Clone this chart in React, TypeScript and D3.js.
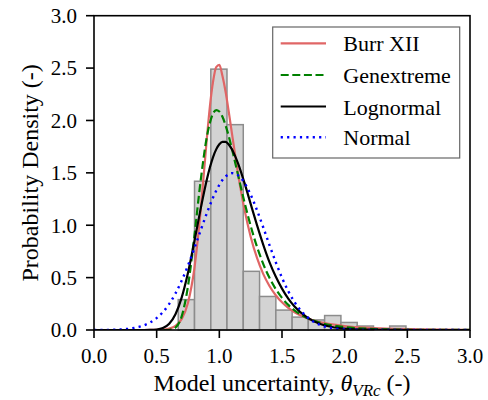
import React from 'react';
import * as d3 from 'd3';

// ---- data ----
const gridX = [0, 0.1, 0.2, 0.3, 0.4, 0.45, 0.5, 0.55, 0.6, 0.65, 0.7, 0.75, 0.8, 0.85, 0.9, 0.925, 0.95, 0.975, 1.0, 1.025, 1.05, 1.075, 1.1, 1.15, 1.2, 1.25, 1.3, 1.35, 1.4, 1.45, 1.5, 1.55, 1.6, 1.7, 1.8, 1.9, 2.0, 2.2, 2.4, 2.6, 3.0];

const burrPdf = [0, 0, 0, 0, 0.0001, 0.0003, 0.0012, 0.0042, 0.0135, 0.0394, 0.106, 0.261, 0.58, 1.127, 1.823, 2.138, 2.372, 2.51, 2.53, 2.424, 2.274, 2.085, 1.882, 1.487, 1.154, 0.891, 0.69, 0.536, 0.42, 0.332, 0.264, 0.211, 0.17, 0.113, 0.076, 0.053, 0.037, 0.0195, 0.0108, 0.0063, 0.0024];

const genextremePdf = [0, 0, 0, 0, 0, 0, 0, 0.0001, 0.0019, 0.0237, 0.132, 0.419, 0.888, 1.416, 1.84, 1.979, 2.066, 2.099, 2.086, 2.035, 1.953, 1.85, 1.732, 1.476, 1.223, 0.994, 0.796, 0.632, 0.498, 0.391, 0.306, 0.24, 0.188, 0.115, 0.0711, 0.0442, 0.0277, 0.0112, 0.0047, 0.002, 0.0004];

const lognormalPdf = [0, 0, 0, 0, 0, 0.0007, 0.0043, 0.0187, 0.06, 0.151, 0.312, 0.547, 0.84, 1.151, 1.434, 1.553, 1.651, 1.724, 1.773, 1.796, 1.795, 1.7705, 1.726, 1.588, 1.406, 1.204, 1.003, 0.815, 0.648, 0.51, 0.395, 0.3, 0.225, 0.12, 0.06, 0.029, 0.014, 0.003, 0.0005, 0.0001, 0];

const normalPdf = [0.0003, 0.0012, 0.0047, 0.0156, 0.0453, 0.073, 0.114, 0.171, 0.249, 0.349, 0.472, 0.616, 0.778, 0.947, 1.114, 1.192, 1.264, 1.329, 1.385, 1.431, 1.465, 1.488, 1.497, 1.476, 1.405, 1.291, 1.145, 0.981, 0.811, 0.648, 0.499, 0.371, 0.267, 0.124, 0.05, 0.0175, 0.0053, 0.0003, 0, 0, 0];

const binEdges = [0.672, 0.802, 0.932, 1.061, 1.191, 1.321, 1.451, 1.581, 1.71, 1.84, 1.97, 2.1, 2.23, 2.359, 2.489];
const binDensity = [0.29, 1.42, 2.49, 1.96, 0.56, 0.32, 0.19, 0.123, 0.096, 0.138, 0.072, 0.038, 0, 0.038];

const xTicks = [0, 0.5, 1.0, 1.5, 2.0, 2.5, 3.0];
const yTicks = [0, 0.5, 1.0, 1.5, 2.0, 2.5, 3.0];

const seriesNames = ['Burr XII', 'Genextreme', 'Lognormal', 'Normal'];
const seriesValues = [burrPdf, genextremePdf, lognormalPdf, normalPdf];

// ---- styles ----
const seriesStyles = [
  { color: '#e06666', dash: 'none', width: 2.2 },
  { color: '#008000', dash: '8 3.6', width: 2.2 },
  { color: '#000000', dash: 'none', width: 2.2 },
  { color: '#0000ff', dash: '2.2 4.2', width: 2.4 },
];

const FONT = 'Liberation Serif, DejaVu Serif, serif';
const txt = { fontFamily: FONT };

export default function App() {
  const W = 488;
  const H = 400;
  const left = 94, right = 470, top = 15.7, bottom = 330;
  const x = d3.scaleLinear().domain([0, 3]).range([left, right]);
  const y = d3.scaleLinear().domain([0, 3]).range([bottom, top]);
  const fmt = d3.format('.1f');

  const lineGen = d3
    .line<number>()
    .x((_, i) => x(gridX[i]))
    .y((d) => y(d))
    .curve(d3.curveMonotoneX);

  const legendX = 272.7, legendY = 27, legendW = 187, legendH = 131;
  const rowY = [43.3, 75, 106.5, 137.3];

  return (
    <svg
      width={W}
      height={H}
      viewBox={`0 0 ${W} ${H}`}
      style={{ position: 'absolute', left: 0, top: 0, background: '#fff' }}
    >
      <defs>
        <clipPath id="plotClip">
          <rect x={left} y={top} width={right - left} height={bottom - top} />
        </clipPath>
      </defs>

      {/* histogram */}
      <g>
        {binDensity.map((d, i) =>
          d > 0 ? (
            <rect
              key={i}
              x={x(binEdges[i])}
              y={y(d)}
              width={x(binEdges[i + 1]) - x(binEdges[i])}
              height={y(0) - y(d)}
              fill="#d3d3d3"
              stroke="#8c8c8c"
              strokeWidth={1.5}
            />
          ) : null
        )}
      </g>

      {/* fitted curves */}
      <g clipPath="url(#plotClip)">
        {seriesValues.map((vals, i) => (
          <path
            key={seriesNames[i]}
            d={lineGen(vals) || ''}
            fill="none"
            stroke={seriesStyles[i].color}
            strokeWidth={seriesStyles[i].width}
            strokeDasharray={seriesStyles[i].dash}
            strokeLinejoin="round"
          />
        ))}
      </g>

      {/* axes frame */}
      <rect x={left} y={top} width={right - left} height={bottom - top} fill="none" stroke="#000" strokeWidth={1.6} />

      {/* x ticks */}
      {xTicks.map((t) => (
        <g key={'x' + t}>
          <line x1={x(t)} x2={x(t)} y1={bottom} y2={bottom + 8} stroke="#000" strokeWidth={1.6} />
          <text x={x(t)} y={363} fontSize={21} textAnchor="middle" fill="#000" style={txt}>
            {fmt(t)}
          </text>
        </g>
      ))}

      {/* y ticks */}
      {yTicks.map((t) => (
        <g key={'y' + t}>
          <line x1={left - 8} x2={left} y1={y(t)} y2={y(t)} stroke="#000" strokeWidth={1.6} />
          <text x={77} y={y(t) + 7.3} fontSize={21} textAnchor="end" fill="#000" style={txt}>
            {fmt(t)}
          </text>
        </g>
      ))}

      {/* axis labels */}
      <text x={(left + right) / 2} y={391} fontSize={24} textAnchor="middle" fill="#000" style={txt}>
        Model uncertainty,{' '}
        <tspan fontStyle="italic">θ</tspan>
        <tspan fontStyle="italic" fontSize={17} dy={5}>VRc</tspan>
        <tspan dy={-5}> (-)</tspan>
      </text>
      <text
        transform={`translate(38, ${(top + bottom) / 2}) rotate(-90)`}
        fontSize={24}
        textAnchor="middle"
        fill="#000"
        style={txt}
      >
        Probability Density (-)
      </text>

      {/* legend */}
      <rect x={legendX} y={legendY} width={legendW} height={legendH} fill="#fff" stroke="#666" strokeWidth={1.2} />
      {seriesNames.map((name, i) => (
        <g key={'lg' + name}>
          <line
            x1={280.7}
            x2={326}
            y1={rowY[i]}
            y2={rowY[i]}
            stroke={seriesStyles[i].color}
            strokeWidth={seriesStyles[i].width}
            strokeDasharray={seriesStyles[i].dash}
          />
          <text x={343.3} y={rowY[i] + 8} fontSize={22} fill="#000" style={txt}>
            {name}
          </text>
        </g>
      ))}
    </svg>
  );
}
